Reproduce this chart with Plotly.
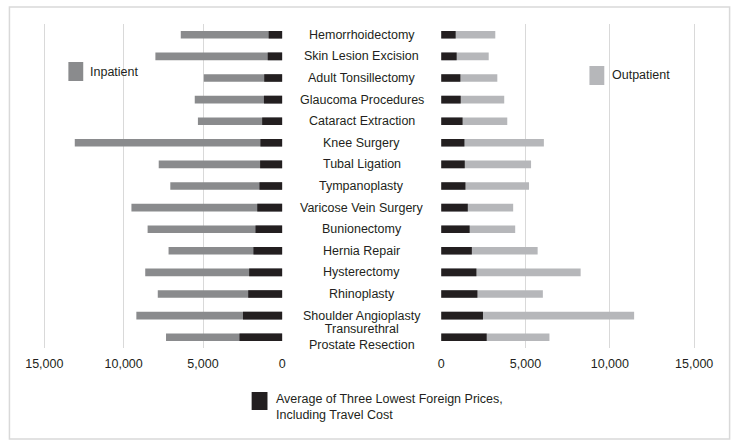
import plotly.graph_objects as go

procedures = [
    "Hemorrhoidectomy", "Skin Lesion Excision", "Adult Tonsillectomy", "Glaucoma Procedures",
    "Cataract Extraction", "Knee Surgery", "Tubal Ligation", "Tympanoplasty",
    "Varicose Vein Surgery", "Bunionectomy", "Hernia Repair", "Hysterectomy",
    "Rhinoplasty", "Shoulder Angioplasty", "Transurethral<br>Prostate Resection",
]
inpatient = [6400, 8000, 4950, 5520, 5320, 13080, 7790, 7060, 9510, 8490, 7170, 8640, 7850, 9200, 7330]
outpatient = [3210, 2820, 3330, 3740, 3920, 6090, 5330, 5210, 4270, 4390, 5720, 8270, 6030, 11440, 6420]
foreign = [860, 920, 1140, 1160, 1270, 1380, 1400, 1440, 1580, 1690, 1820, 2090, 2150, 2480, 2700]
tick_vals = [0, 5000, 10000, 15000]
tick_text = ["0", "5,000", "10,000", "15,000"]

W, H = 744, 447
FONT = "Liberation Sans, Arial, Helvetica, sans-serif"
TXT = "#231f20"
C_IN, C_OUT, C_FOR = "#8a8b8d", "#b6b7ba", "#231f20"
GRID = "#d9d9d9"

def px(x):
    return x / W

def py(y):
    return 1 - y / H

# left axis: 0 at x=282, 16.02 px per 1000
left_a = 20
left_max = (282 - left_a) / 0.01602
# right axis: 0 at 442.3, 17.03 px per 1000
right_b = 720
right_max = (right_b - 442.3) / 0.01703

bw = 0.35
fig = go.Figure()
fig.add_bar(y=procedures, x=inpatient, orientation="h", marker_color=C_IN, width=bw,
            xaxis="x", yaxis="y", name="Inpatient", marker_line_width=0)
fig.add_bar(y=procedures, x=foreign, orientation="h", marker_color=C_FOR, width=bw,
            xaxis="x", yaxis="y", name="Foreign", marker_line_width=0)
fig.add_bar(y=procedures, x=outpatient, orientation="h", marker_color=C_OUT, width=bw,
            xaxis="x2", yaxis="y", name="Outpatient", marker_line_width=0)
fig.add_bar(y=procedures, x=foreign, orientation="h", marker_color=C_FOR, width=bw,
            xaxis="x2", yaxis="y", name="Foreign", marker_line_width=0)

axis_common = dict(
    tickvals=tick_vals, ticktext=tick_text, showgrid=True, gridcolor=GRID, gridwidth=1,
    zeroline=False, showline=False, ticks="", tickfont=dict(family=FONT, size=12.5, color=TXT),
    anchor="y", ticklabelstandoff=6,
)
fig.update_layout(
    width=W, height=H, margin=dict(l=0, r=0, t=0, b=0),
    paper_bgcolor="white", plot_bgcolor="white",
    barmode="overlay", showlegend=False,
    xaxis=dict(domain=[px(left_a), px(282)], range=[left_max, 0], **axis_common),
    xaxis2=dict(domain=[px(442.3), px(right_b)], range=[0, right_max], **axis_common),
    yaxis=dict(domain=[py(348), py(24)], type="category", range=[len(procedures) - 0.5, -0.5],
               showticklabels=False, showgrid=False, zeroline=False, showline=False, ticks=""),
    font=dict(family=FONT, size=12, color=TXT),
)

# category labels in the middle
for p in procedures:
    fig.add_annotation(x=px(362), xref="paper", y=p, yref="y", text=p, showarrow=False,
                       font=dict(family=FONT, size=12.5, color=TXT), xanchor="center",
                       yanchor="middle", align="center")

# frame
fig.add_shape(type="rect", xref="paper", yref="paper", x0=px(6.5), x1=px(733.5),
              y0=py(439), y1=py(7), line=dict(color=GRID, width=1.5), layer="below")

# legends
def legend_item(x0, y0, x1, y1, color, text, tx, ty):
    fig.add_shape(type="rect", xref="paper", yref="paper", x0=px(x0), x1=px(x1),
                  y0=py(y1), y1=py(y0), fillcolor=color, line_width=0)
    fig.add_annotation(x=px(tx), y=py(ty), xref="paper", yref="paper", text=text,
                       showarrow=False, xanchor="left", yanchor="middle", align="left",
                       font=dict(family=FONT, size=12.5, color=TXT))

legend_item(66, 62, 81, 81, C_IN, "Inpatient", 86, 72)
legend_item(592, 66, 607, 85, C_OUT, "Outpatient", 613, 75)
legend_item(251, 392, 267, 410, C_FOR,
            "Average of Three Lowest Foreign Prices,<br>Including Travel Cost", 274, 407)

fig.write_html("out.html", post_script="document.body.style.margin='0px';",
               config={"displayModeBar": False})
